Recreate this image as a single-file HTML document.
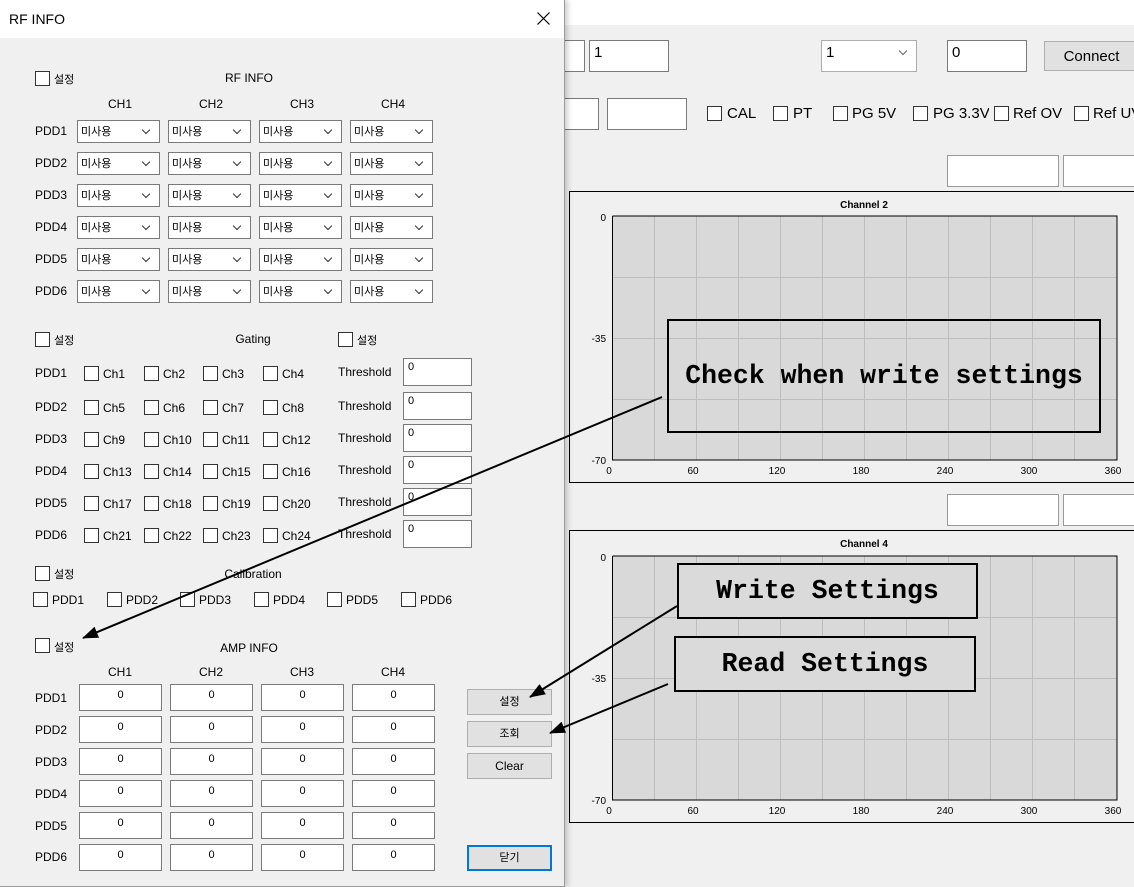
<!DOCTYPE html>
<html><head><meta charset="utf-8">
<style>
*{box-sizing:border-box;margin:0;padding:0}
body{width:1134px;height:887px;overflow:hidden;background:#f0f0f0;position:relative;font-family:"Liberation Sans","Noto Sans CJK KR",sans-serif;font-size:12px;color:#000}
div,span{position:absolute}
.tb{background:#fff;border:1px solid #7a7a7a}
.cb{width:15px;height:15px;background:#fff;border:1px solid #333}
.cmb{width:83px;height:23px;background:#fff;border:1px solid #7a7a7a;font-size:11px;padding:2px 0 0 3px}
.cmb:after{content:"";position:absolute;right:10px;top:6px;width:5px;height:5px;border-right:1px solid #333;border-bottom:1px solid #333;transform:rotate(45deg)}
.amp{width:83px;height:27px;background:#fff;border:1px solid #7a7a7a;text-align:center;font-size:11px;padding-top:4px}
.th{width:69px;height:28px;background:#fff;border:1px solid #7a7a7a;font-size:11px;padding:2px 0 0 4px}
.btn{width:85px;height:26px;background:#e1e1e1;border:1px solid #adadad;text-align:center;line-height:24px;font-size:12px}
.c{transform:translateX(-50%)}
.m{font-size:15px}
.ann{font-family:"Liberation Mono","DejaVu Sans Mono",monospace;font-size:26.5px;font-weight:bold;text-align:center;border:2px solid #000}
</style></head><body>
<!-- main window -->
<div style="left:565px;top:0;width:569px;height:25px;background:#fff"></div>
<div class="tb" style="left:560px;top:40px;width:25px;height:32px"></div>
<div class="tb m" style="left:589px;top:40px;width:80px;height:32px;padding:3px 0 0 4px">1</div>
<div class="tb m" style="left:821px;top:40px;width:96px;height:32px;padding:3px 0 0 4px;border-color:#adadad">1<span style="right:10px;top:7px;width:6px;height:6px;border-right:1px solid #666;border-bottom:1px solid #666;transform:rotate(45deg)"></span></div>
<div class="tb m" style="left:947px;top:40px;width:80px;height:32px;padding:3px 0 0 4px">0</div>
<div class="btn m" style="left:1044px;top:41px;width:95px;height:30px;line-height:29px">Connect</div>
<div class="tb" style="left:560px;top:98px;width:39px;height:32px"></div>
<div class="tb" style="left:607px;top:98px;width:80px;height:32px"></div>
<div class="cb" style="left:707px;top:106px"></div><span class="m" style="left:727px;top:105px">CAL</span>
<div class="cb" style="left:773px;top:106px"></div><span class="m" style="left:793px;top:105px">PT</span>
<div class="cb" style="left:833px;top:106px"></div><span class="m" style="left:852px;top:105px">PG 5V</span>
<div class="cb" style="left:913px;top:106px"></div><span class="m" style="left:933px;top:105px;width:56px;overflow:hidden;white-space:nowrap">PG 3.3V</span>
<div class="cb" style="left:994px;top:106px"></div><span class="m" style="left:1013px;top:105px">Ref OV</span>
<div class="cb" style="left:1074px;top:106px"></div><span class="m" style="left:1093px;top:105px;white-space:nowrap">Ref UV</span>
<div class="tb" style="left:947px;top:155px;width:112px;height:32px;border-color:#999"></div>
<div class="tb" style="left:1063px;top:155px;width:80px;height:32px;border-color:#999"></div>
<div class="tb" style="left:947px;top:494px;width:112px;height:32px;border-color:#999"></div>
<div class="tb" style="left:1063px;top:494px;width:80px;height:32px;border-color:#999"></div>

<svg style="position:absolute;left:0;top:0" width="1134" height="887" font-family="Liberation Sans, sans-serif" font-size="10">
<defs><g id="grid">
<rect x="0" y="0" width="505" height="244" fill="#d9d9d9"/>
<g stroke="#bdbdbd" stroke-width="1">
<path d="M42.5 0V244M84.5 0V244M126.5 0V244M168.5 0V244M210.5 0V244M252.5 0V244M294.5 0V244M336.5 0V244M378.5 0V244M420.5 0V244M462.5 0V244M0 61.5H505M0 122.5H505M0 183.5H505"/></g>
<path d="M0.5 0V244H505V0H0.5" fill="none" stroke="#000"/>
<g text-anchor="middle"><text x="-3" y="258">0</text><text x="81" y="258">60</text><text x="165" y="258">120</text><text x="249" y="258">180</text><text x="333" y="258">240</text><text x="417" y="258">300</text><text x="501" y="258">360</text></g>
<g text-anchor="end"><text x="-6" y="5">0</text><text x="-6" y="126">-35</text><text x="-6" y="248">-70</text></g>
</g></defs>
<rect x="569.5" y="191.5" width="580" height="291" fill="none" stroke="#000"/>
<text x="864" y="208" text-anchor="middle" font-weight="bold">Channel 2</text>
<use href="#grid" x="612" y="216"/>
<rect x="569.5" y="530.5" width="580" height="292" fill="none" stroke="#000"/>
<text x="864" y="547" text-anchor="middle" font-weight="bold">Channel 4</text>
<use href="#grid" x="612" y="556"/>
</svg>

<!-- dialog -->
<div style="left:0;top:0;width:565px;height:887px;background:#f0f0f0;border-right:1px solid #999;border-bottom:1px solid #999;box-shadow:3px 0 5px rgba(0,0,0,.18)">
<div style="left:0;top:0;width:564px;height:38px;background:#fff"></div>
<span style="left:9px;top:11px;font-size:14px">RF INFO</span>
<svg style="position:absolute;left:537px;top:12px" width="13" height="13"><path d="M0.5 0.5L12.5 12.5M12.5 0.5L0.5 12.5" stroke="#000" stroke-width="1.2"/></svg>

<div class="cb" style="left:35px;top:71px"></div><span style="left:54px;top:71px;font-size:11px">설정</span>
<span class="c" style="left:249px;top:71px">RF INFO</span>
<span class="c" style="left:120px;top:97px">CH1</span><span class="c" style="left:211px;top:97px">CH2</span><span class="c" style="left:302px;top:97px">CH3</span><span class="c" style="left:393px;top:97px">CH4</span>

<span style="left:35px;top:124px">PDD1</span><span style="left:35px;top:156px">PDD2</span><span style="left:35px;top:188px">PDD3</span><span style="left:35px;top:220px">PDD4</span><span style="left:35px;top:252px">PDD5</span><span style="left:35px;top:284px">PDD6</span>
<div class="cmb" style="left:77px;top:120px">미사용</div><div class="cmb" style="left:168px;top:120px">미사용</div><div class="cmb" style="left:259px;top:120px">미사용</div><div class="cmb" style="left:350px;top:120px">미사용</div>
<div class="cmb" style="left:77px;top:152px">미사용</div><div class="cmb" style="left:168px;top:152px">미사용</div><div class="cmb" style="left:259px;top:152px">미사용</div><div class="cmb" style="left:350px;top:152px">미사용</div>
<div class="cmb" style="left:77px;top:184px">미사용</div><div class="cmb" style="left:168px;top:184px">미사용</div><div class="cmb" style="left:259px;top:184px">미사용</div><div class="cmb" style="left:350px;top:184px">미사용</div>
<div class="cmb" style="left:77px;top:216px">미사용</div><div class="cmb" style="left:168px;top:216px">미사용</div><div class="cmb" style="left:259px;top:216px">미사용</div><div class="cmb" style="left:350px;top:216px">미사용</div>
<div class="cmb" style="left:77px;top:248px">미사용</div><div class="cmb" style="left:168px;top:248px">미사용</div><div class="cmb" style="left:259px;top:248px">미사용</div><div class="cmb" style="left:350px;top:248px">미사용</div>
<div class="cmb" style="left:77px;top:280px">미사용</div><div class="cmb" style="left:168px;top:280px">미사용</div><div class="cmb" style="left:259px;top:280px">미사용</div><div class="cmb" style="left:350px;top:280px">미사용</div>

<!-- gating -->
<div class="cb" style="left:35px;top:332px"></div><span style="left:54px;top:332px;font-size:11px">설정</span>
<span class="c" style="left:253px;top:332px">Gating</span>
<div class="cb" style="left:338px;top:332px"></div><span style="left:357px;top:332px;font-size:11px">설정</span>

<span style="left:35px;top:366px">PDD1</span><span style="left:35px;top:400px">PDD2</span><span style="left:35px;top:432px">PDD3</span><span style="left:35px;top:464px">PDD4</span><span style="left:35px;top:496px">PDD5</span><span style="left:35px;top:528px">PDD6</span>

<div class="cb" style="left:84px;top:366px"></div><span style="left:103px;top:367px">Ch1</span><div class="cb" style="left:144px;top:366px"></div><span style="left:163px;top:367px">Ch2</span><div class="cb" style="left:203px;top:366px"></div><span style="left:222px;top:367px">Ch3</span><div class="cb" style="left:263px;top:366px"></div><span style="left:282px;top:367px">Ch4</span>
<div class="cb" style="left:84px;top:400px"></div><span style="left:103px;top:401px">Ch5</span><div class="cb" style="left:144px;top:400px"></div><span style="left:163px;top:401px">Ch6</span><div class="cb" style="left:203px;top:400px"></div><span style="left:222px;top:401px">Ch7</span><div class="cb" style="left:263px;top:400px"></div><span style="left:282px;top:401px">Ch8</span>
<div class="cb" style="left:84px;top:432px"></div><span style="left:103px;top:433px">Ch9</span><div class="cb" style="left:144px;top:432px"></div><span style="left:163px;top:433px">Ch10</span><div class="cb" style="left:203px;top:432px"></div><span style="left:222px;top:433px">Ch11</span><div class="cb" style="left:263px;top:432px"></div><span style="left:282px;top:433px">Ch12</span>
<div class="cb" style="left:84px;top:464px"></div><span style="left:103px;top:465px">Ch13</span><div class="cb" style="left:144px;top:464px"></div><span style="left:163px;top:465px">Ch14</span><div class="cb" style="left:203px;top:464px"></div><span style="left:222px;top:465px">Ch15</span><div class="cb" style="left:263px;top:464px"></div><span style="left:282px;top:465px">Ch16</span>
<div class="cb" style="left:84px;top:496px"></div><span style="left:103px;top:497px">Ch17</span><div class="cb" style="left:144px;top:496px"></div><span style="left:163px;top:497px">Ch18</span><div class="cb" style="left:203px;top:496px"></div><span style="left:222px;top:497px">Ch19</span><div class="cb" style="left:263px;top:496px"></div><span style="left:282px;top:497px">Ch20</span>
<div class="cb" style="left:84px;top:528px"></div><span style="left:103px;top:529px">Ch21</span><div class="cb" style="left:144px;top:528px"></div><span style="left:163px;top:529px">Ch22</span><div class="cb" style="left:203px;top:528px"></div><span style="left:222px;top:529px">Ch23</span><div class="cb" style="left:263px;top:528px"></div><span style="left:282px;top:529px">Ch24</span>

<span style="left:338px;top:365px">Threshold</span><div class="th" style="left:403px;top:358px">0</div>
<span style="left:338px;top:399px">Threshold</span><div class="th" style="left:403px;top:392px">0</div>
<span style="left:338px;top:431px">Threshold</span><div class="th" style="left:403px;top:424px">0</div>
<span style="left:338px;top:463px">Threshold</span><div class="th" style="left:403px;top:456px">0</div>
<span style="left:338px;top:495px">Threshold</span><div class="th" style="left:403px;top:488px">0</div>
<span style="left:338px;top:527px">Threshold</span><div class="th" style="left:403px;top:520px">0</div>

<!-- calibration -->
<div class="cb" style="left:35px;top:566px"></div><span style="left:54px;top:566px;font-size:11px">설정</span>
<span class="c" style="left:253px;top:567px">Calibration</span>
<div class="cb" style="left:33px;top:592px"></div><span style="left:52px;top:593px">PDD1</span>
<div class="cb" style="left:107px;top:592px"></div><span style="left:126px;top:593px">PDD2</span>
<div class="cb" style="left:180px;top:592px"></div><span style="left:199px;top:593px">PDD3</span>
<div class="cb" style="left:254px;top:592px"></div><span style="left:273px;top:593px">PDD4</span>
<div class="cb" style="left:327px;top:592px"></div><span style="left:346px;top:593px">PDD5</span>
<div class="cb" style="left:401px;top:592px"></div><span style="left:420px;top:593px">PDD6</span>

<!-- amp -->
<div class="cb" style="left:35px;top:638px"></div><span style="left:54px;top:639px;font-size:11px">설정</span>
<span class="c" style="left:249px;top:641px">AMP INFO</span>
<span class="c" style="left:120px;top:665px">CH1</span><span class="c" style="left:211px;top:665px">CH2</span><span class="c" style="left:302px;top:665px">CH3</span><span class="c" style="left:393px;top:665px">CH4</span>
<span style="left:35px;top:691px">PDD1</span><span style="left:35px;top:723px">PDD2</span><span style="left:35px;top:755px">PDD3</span><span style="left:35px;top:787px">PDD4</span><span style="left:35px;top:819px">PDD5</span><span style="left:35px;top:850px">PDD6</span>
<div class="amp" style="left:79px;top:684px">0</div><div class="amp" style="left:170px;top:684px">0</div><div class="amp" style="left:261px;top:684px">0</div><div class="amp" style="left:352px;top:684px">0</div>
<div class="amp" style="left:79px;top:716px">0</div><div class="amp" style="left:170px;top:716px">0</div><div class="amp" style="left:261px;top:716px">0</div><div class="amp" style="left:352px;top:716px">0</div>
<div class="amp" style="left:79px;top:748px">0</div><div class="amp" style="left:170px;top:748px">0</div><div class="amp" style="left:261px;top:748px">0</div><div class="amp" style="left:352px;top:748px">0</div>
<div class="amp" style="left:79px;top:780px">0</div><div class="amp" style="left:170px;top:780px">0</div><div class="amp" style="left:261px;top:780px">0</div><div class="amp" style="left:352px;top:780px">0</div>
<div class="amp" style="left:79px;top:812px">0</div><div class="amp" style="left:170px;top:812px">0</div><div class="amp" style="left:261px;top:812px">0</div><div class="amp" style="left:352px;top:812px">0</div>
<div class="amp" style="left:79px;top:844px">0</div><div class="amp" style="left:170px;top:844px">0</div><div class="amp" style="left:261px;top:844px">0</div><div class="amp" style="left:352px;top:844px">0</div>
<div class="btn" style="left:467px;top:689px;font-size:11px">설정</div>
<div class="btn" style="left:467px;top:721px;font-size:11px">조회</div>
<div class="btn" style="left:467px;top:753px">Clear</div>
<div class="btn" style="left:467px;top:845px;border:2px solid #0078d7;line-height:22px;font-size:11px">닫기</div>
</div>

<!-- annotations -->
<div class="ann" style="left:667px;top:319px;width:434px;height:114px;line-height:110px">Check when write settings</div>
<div class="ann" style="left:677px;top:563px;width:301px;height:56px;line-height:52px;background:#dadada">Write Settings</div>
<div class="ann" style="left:674px;top:636px;width:302px;height:56px;line-height:52px;background:#dadada">Read Settings</div>
<svg style="position:absolute;left:0;top:0" width="1134" height="887">
<defs><marker id="a" markerWidth="16" markerHeight="12" refX="15" refY="6" orient="auto" markerUnits="userSpaceOnUse"><path d="M0 0L16 6L0 12z" fill="#000"/></marker></defs>
<g stroke="#000" stroke-width="2" marker-end="url(#a)">
<line x1="662" y1="397" x2="83" y2="638"/>
<line x1="677" y1="606" x2="530" y2="697"/>
<line x1="668" y1="684" x2="550" y2="733"/>
</g></svg>
</body></html>
